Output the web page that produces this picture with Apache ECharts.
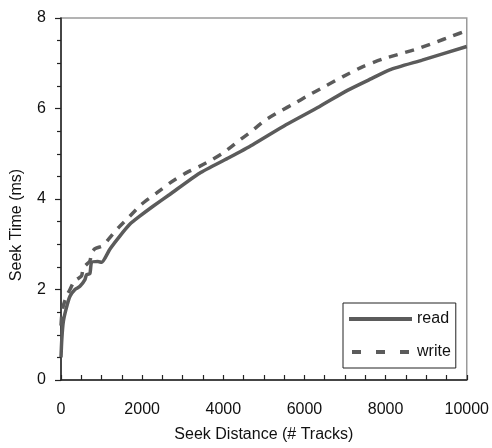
<!DOCTYPE html>
<html>
<head>
<meta charset="utf-8">
<script src="https://cdn.jsdelivr.net/npm/echarts@6/dist/echarts.min.js"></script>
<style>html,body{margin:0;padding:0;background:#fff;}#c{width:492px;height:448px;}</style>
</head>
<body>
<div id="c"></div>
<script>
const readDistance = [0, 20, 56, 123, 221, 344, 467, 590, 631, 712, 754, 909, 1000, 1204, 1450, 1695, 1941, 2268, 2678, 3415, 4111, 4726, 5545, 6364, 7060, 7674, 8084, 8900, 10000];
const readTime     = [0.5, 0.9, 1.28, 1.56, 1.85, 2.0, 2.07, 2.22, 2.33, 2.35, 2.6, 2.62, 2.6, 2.89, 3.18, 3.44, 3.62, 3.84, 4.1, 4.57, 4.9, 5.2, 5.64, 6.04, 6.4, 6.67, 6.85, 7.07, 7.37];
const writeDistance = [0, 20, 57, 139, 221, 303, 385, 508, 549, 712, 754, 835, 1040, 1163, 1408, 1695, 1982, 2351, 2678, 3047, 3415, 3743, 4029, 4357, 4685, 5012, 5381, 5791, 6037, 6486, 6937, 7428, 7920, 8410, 8821, 9189, 9639, 10000];
const writeTime     = [1.2, 1.45, 1.64, 1.86, 2.0, 2.15, 2.22, 2.3, 2.48, 2.63, 2.81, 2.9, 2.97, 3.1, 3.36, 3.62, 3.88, 4.13, 4.35, 4.56, 4.72, 4.88, 5.04, 5.27, 5.49, 5.73, 5.93, 6.13, 6.26, 6.48, 6.7, 6.92, 7.09, 7.22, 7.33, 7.45, 7.6, 7.72];
const seriesNames = ['read', 'write'];
const xTitle = 'Seek Distance (# Tracks)';
const yTitle = 'Seek Time (ms)';

const zip = (xs, ys) => xs.map((x, i) => [x, ys[i]]);
const font = 'Liberation Sans, Arial, sans-serif';
const lineColor = '#5b5b5b';

const chart = echarts.init(document.getElementById('c'), null, {renderer: 'canvas'});
chart.setOption({
  animation: false,
  backgroundColor: '#fff',
  grid: {left: 61, right: 24, top: 18, bottom: 67, show: true, borderColor: '#9a9a9a', borderWidth: 1.5, backgroundColor: 'transparent'},
  xAxis: {
    type: 'value', min: 0, max: 10000, interval: 2000,
    name: xTitle, nameLocation: 'middle', nameGap: 47,
    nameTextStyle: {fontFamily: font, fontSize: 16, color: '#111'},
    axisLine: {show: true, lineStyle: {color: '#222', width: 1.5}},
    axisTick: {show: true, inside: true, length: 5, lineStyle: {color: '#222', width: 1.2}},
    minorTick: {show: true, splitNumber: 4, length: 5, lineStyle: {color: '#222', width: 1.2}},
    axisLabel: {fontFamily: font, fontSize: 16, color: '#111', margin: 22, formatter: v => String(v)},
    splitLine: {show: false}
  },
  yAxis: {
    type: 'value', min: 0, max: 8, interval: 2,
    name: yTitle, nameLocation: 'middle', nameGap: 36,
    nameTextStyle: {fontFamily: font, fontSize: 16, color: '#111', padding: [0, 52, 0, 0]},
    axisLine: {show: true, lineStyle: {color: '#222', width: 1.5}},
    axisTick: {show: true, inside: false, length: 6, lineStyle: {color: '#222', width: 1.2}},
    minorTick: {show: true, splitNumber: 4, length: 4, lineStyle: {color: '#222', width: 1.2}},
    axisLabel: {fontFamily: font, fontSize: 16, color: '#111', margin: 15},
    splitLine: {show: false}
  },
  legend: {
    orient: 'vertical', left: 343, top: 303,
    data: [
      {name: seriesNames[0], icon: 'rect'},
      {name: seriesNames[1], icon: 'path://M0,0h9v4h-9zM24,0h9v4h-9zM48,0h9v4h-9z'}
    ],
    itemWidth: 63, itemHeight: 4, itemGap: 15,
    padding: [7, 5, 7, 6],
    borderColor: '#222', borderWidth: 1, backgroundColor: '#fff',
    itemStyle: {color: lineColor, borderWidth: 0},
    textStyle: {fontFamily: font, fontSize: 16, color: '#111', lineHeight: 18}
  },
  series: [
    {
      name: seriesNames[0], type: 'line', data: zip(readDistance, readTime),
      showSymbol: false, symbol: 'none', smooth: 0.2,
      lineStyle: {color: lineColor, width: 3.5}, itemStyle: {color: lineColor}
    },
    {
      name: seriesNames[1], type: 'line', data: zip(writeDistance, writeTime),
      showSymbol: false, symbol: 'none', smooth: 0.2,
      lineStyle: {color: lineColor, width: 3.5, type: [9, 8]}, itemStyle: {color: lineColor}
    }
  ]
});
</script>
</body>
</html>
